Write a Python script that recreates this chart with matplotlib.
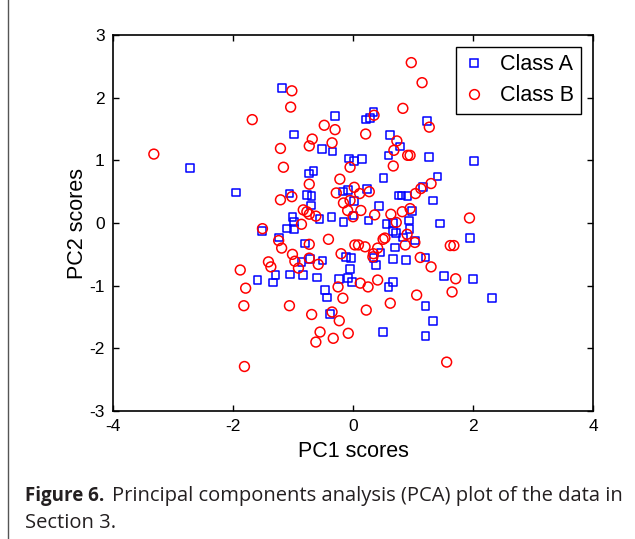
import matplotlib
matplotlib.use("Agg")
import matplotlib.pyplot as plt
from matplotlib.lines import Line2D

plt.rcParams['font.family'] = ['Liberation Sans', 'DejaVu Sans']
plt.rcParams['axes.unicode_minus'] = False

# PCA scores
class_a_pc1 = [-2.72, -1.95, -1.59, -1.18, -0.30, 0.34, 0.28, 0.22, -0.98, -0.52,
               -0.34, -0.07, 0.02, 0.15, -0.66, -0.73, -0.08, -0.17, 0.23, -1.06,
               -0.77, -0.69, 0.02, -0.70, 0.43, -0.56, -0.36, 0.01, 0.26, -0.16,
               -1.01, -0.98, 1.23, 0.62, 0.78, 0.59, 1.27, 2.02, 0.51, 1.41,
               1.17, 0.76, 0.81, 0.91, 1.33, 0.98, 0.93, 0.56, 0.67, 1.45,
               -1.52, -1.10, -0.98, -1.23, -0.80, -0.86, -0.72, -1.29, -1.33, -1.05,
               -0.83, -0.51, -0.60, -0.12, -0.03, -0.05, -0.23, -0.08, -0.02, -0.47,
               -0.43, -0.38, 0.34, 0.38, 0.46, 0.67, 0.72, 0.94, 0.83, 0.70,
               1.03, 1.95, 0.67, 0.88, 1.21, 1.52, 2.00, 0.67, 0.59, 2.32,
               1.21, 1.33, 0.50, 1.21]
class_a_pc2 = [0.88, 0.49, -0.91, 2.15, 1.71, 1.77, 1.68, 1.65, 1.41, 1.18,
               1.14, 1.03, 0.99, 1.02, 0.83, 0.79, 0.53, 0.50, 0.54, 0.47,
               0.45, 0.43, 0.35, 0.28, 0.27, 0.06, 0.10, 0.12, 0.04, 0.02,
               0.10, 0.02, 1.63, 1.40, 1.22, 1.08, 1.05, 0.99, 0.72, 0.74,
               0.57, 0.44, 0.44, 0.43, 0.36, 0.19, 0.04, -0.02, 0.00, -0.01,
               -0.13, -0.09, -0.10, -0.23, -0.33, -0.62, -0.57, -0.83, -0.95, -0.82,
               -0.83, -0.60, -0.87, -0.54, -0.56, -0.73, -0.89, -0.88, -0.94, -1.07,
               -1.19, -1.45, -0.56, -0.67, -0.47, -0.13, -0.16, -0.10, -0.23, -0.39,
               -0.28, -0.24, -0.57, -0.59, -0.55, -0.85, -0.89, -0.94, -1.02, -1.20,
               -1.32, -1.56, -1.74, -1.80]

class_b_pc1 = [-3.32, -1.68, -1.88, -1.79, -1.82, -1.81, 0.97, -1.02, -1.04, 0.35,
               -0.48, -0.30, 0.21, -0.68, -0.35, -0.73, -1.21, -0.05, -1.16, -0.22,
               -0.73, 0.02, -0.28, 0.11, 0.27, -1.02, -1.21, -0.16, -0.05, -0.83,
               -0.77, -0.73, -0.62, -0.09, 0.13, 0.00, 0.36, -0.86, 1.15, 0.83,
               1.27, 0.73, 0.68, 0.91, 0.95, 0.67, 1.30, 1.13, 1.04, 0.95,
               0.82, 0.63, 0.72, 1.94, -1.51, -1.24, -1.19, -0.73, -0.41, 0.03,
               0.09, 0.20, -1.01, -0.97, -0.73, -1.41, -1.37, -0.91, -0.58, -0.20,
               -0.25, -0.17, 0.12, 0.25, 0.41, 0.41, 0.34, 0.33, -1.06, -0.69,
               -0.35, -0.23, 0.22, -0.55, -0.62, -0.33, -0.08, 0.90, 0.50, 0.53,
               0.87, 1.03, 1.62, 1.68, 1.12, 1.30, 1.71, 1.06, 1.65, 0.62,
               1.56]
class_b_pc2 = [1.10, 1.65, -0.75, -1.04, -1.32, -2.29, 2.56, 2.11, 1.85, 1.72,
               1.56, 1.49, 1.42, 1.34, 1.28, 1.23, 1.19, 0.89, 0.89, 0.70,
               0.62, 0.57, 0.48, 0.47, 0.50, 0.42, 0.37, 0.32, 0.36, 0.21,
               0.18, 0.14, 0.11, 0.20, 0.20, 0.10, 0.13, -0.02, 2.24, 1.83,
               1.53, 1.31, 1.16, 1.08, 1.08, 0.91, 0.63, 0.55, 0.47, 0.23,
               0.18, 0.14, 0.01, 0.08, -0.09, -0.28, -0.40, -0.34, -0.26, -0.35,
               -0.35, -0.38, -0.50, -0.61, -0.56, -0.62, -0.70, -0.72, -0.66, -0.49,
               -1.02, -1.20, -0.96, -1.02, -0.91, -0.40, -0.49, -0.54, -1.32, -1.46,
               -1.42, -1.56, -1.39, -1.74, -1.90, -1.84, -1.76, -0.18, -0.26, -0.24,
               -0.35, -0.31, -0.36, -0.36, -0.55, -0.70, -0.89, -1.15, -1.10, -1.28,
               -2.22]

xticks = [-4, -2, 0, 2, 4]
yticks = [-3, -2, -1, 0, 1, 2, 3]

fig = plt.figure(figsize=(6.35, 5.39), dpi=100)
ax = fig.add_axes([0.178, 0.2375, 0.756, 0.6975])

ax.scatter(class_a_pc1, class_a_pc2, marker='s', s=30, facecolors='none',
           edgecolors='#0000ff', linewidths=1.1, label='Class A')
ax.scatter(class_b_pc1, class_b_pc2, marker='o', s=50, facecolors='none',
           edgecolors='#ff0000', linewidths=1.1, label='Class B')

ax.set_xlim(-4, 4)
ax.set_ylim(-3, 3)
ax.set_xticks(xticks)
ax.set_yticks(yticks)
ax.tick_params(direction='in', top=True, right=True, length=4, width=1,
               labelsize=12.5, pad=6)
for sp in ax.spines.values():
    sp.set_linewidth(1.2)

ax.set_xlabel('PC1 scores', fontsize=15.5, labelpad=5)
ax.set_ylabel('PC2 scores', fontsize=15.5, labelpad=1)

handles = [
    Line2D([], [], marker='s', ls='none', ms=5.5, mfc='none', mec='#0000ff', mew=1.1),
    Line2D([], [], marker='o', ls='none', ms=7, mfc='none', mec='#ff0000', mew=1.1),
]
leg = ax.legend(handles, ['Class A', 'Class B'], loc='upper right', fontsize=15.5,
                fancybox=False, framealpha=1, edgecolor='black',
                handlelength=1.0, handletextpad=0.7, borderpad=0.35,
                labelspacing=0.45, borderaxespad=0.55)
leg.get_frame().set_linewidth(1.0)

# caption
cap_font = ['Open Sans', 'DejaVu Sans']
fig.canvas.draw()
t1 = fig.text(25 / 635, 1 - 501 / 539, 'Figure 6.', fontsize=13.5,
              fontweight='bold', family=cap_font, color='#231f20')
fig.canvas.draw()
bb = t1.get_window_extent()
fig.text((bb.x1 + 8) / 635, 1 - 501 / 539,
         'Principal components analysis (PCA) plot of the data in',
         fontsize=14.5, family=cap_font, color='#231f20')
fig.text(25 / 635, 1 - 528 / 539, 'Section 3.', fontsize=14.5,
         family=cap_font, color='#231f20')

# left frame line of the figure panel
fig.add_artist(Line2D([8 / 635, 8 / 635], [0, 1], transform=fig.transFigure,
                      color='#555555', lw=1))

fig.savefig('out.png', dpi=100)
